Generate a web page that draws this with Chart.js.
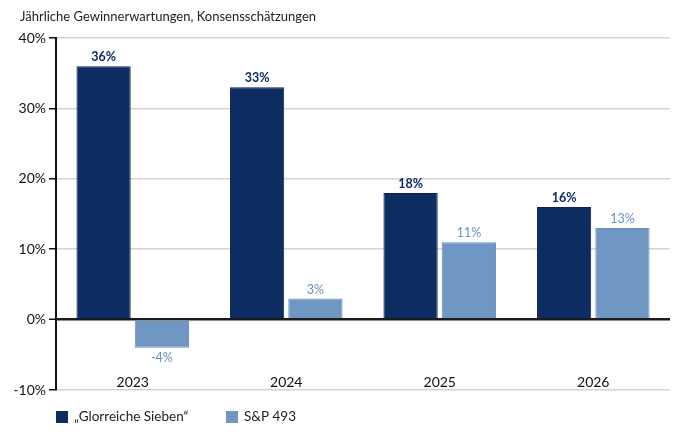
<!DOCTYPE html>
<html>
<head>
<meta charset="utf-8">
<script src="https://cdn.jsdelivr.net/npm/chart.js@4.4.0/dist/chart.umd.min.js"></script>
<style>
  body { margin: 0; background: #fff; }
  canvas { display: block; }
</style>
</head>
<body>
<canvas id="barChart" width="700" height="437"></canvas>
<script>
// datos
const years = ['2023', '2024', '2025', '2026']
const glorreiche = [36, 33, 18, 16]
const sp493 = [-4, 3, 11, 13]
const yTicks = [-10, 0, 10, 20, 30, 40]
const seriesNames = ['\u201EGlorreiche Sieben\u201C', 'S&P 493']
const titleText = 'J\u00E4hrliche Gewinnerwartungen, Konsenssch\u00E4tzungen'

const dark = '#0c2c62'
const light = '#7097c4'
const font = 'Lato, "Open Sans", sans-serif'

// titulo, leyenda, etiquetas de categorias y valores
const extras = {
  id: 'extras',
  afterDraw (chart) {
    const c = chart.ctx
    const x = chart.scales.x
    c.save()
    c.textBaseline = 'middle'
    c.fillStyle = '#222'
    c.font = '13px ' + font
    c.textAlign = 'left'
    c.fillText(titleText, 20, 17)

    // categorias
    c.textAlign = 'center'
    c.fillStyle = '#111'
    c.font = '14px ' + font
    years.forEach((yr, i) => {
      c.fillText(yr, x.getPixelForValue(i), 382)
    })

    // valores encima de las barras
    chart.data.datasets.forEach((ds, di) => {
      const meta = chart.getDatasetMeta(di)
      meta.data.forEach((bar, i) => {
        const v = ds.data[i]
        c.font = (di === 0 ? 'bold ' : '') + '12.5px ' + font
        c.fillStyle = di === 0 ? dark : '#6890c0'
        const yy = v >= 0 ? bar.y - 9 : bar.y + 10
        c.fillText(v + '%', bar.x, yy)
      })
    })

    // leyenda
    const items = [[56, dark], [226, light]]
    c.textAlign = 'left'
    c.font = '13.5px ' + font
    items.forEach((it, i) => {
      c.fillStyle = it[1]
      c.fillRect(it[0], 411, 12, 12)
      c.fillStyle = '#222'
      c.fillText(seriesNames[i], it[0] + 18, 417)
    })
    c.restore()
  }
}

const myChart = new Chart(document.getElementById('barChart').getContext('2d'), {
  type: 'bar',
  data: {
    labels: years,
    datasets: [
      { label: seriesNames[0], data: glorreiche, backgroundColor: dark, borderColor: '#0a2550', borderWidth: 1 },
      { label: seriesNames[1], data: sp493, backgroundColor: light, borderColor: '#6a90bd', borderWidth: 1 }
    ]
  },
  plugins: [extras],
  options: {
    responsive: false,
    animation: false,
    layout: { padding: { left: 0, right: 30, top: 38, bottom: 47 } },
    datasets: { bar: { categoryPercentage: 0.76, barPercentage: 0.93 } },
    plugins: { legend: { display: false }, tooltip: { enabled: false } },
    scales: {
      x: { display: false },
      y: {
        min: -10,
        max: 40,
        afterFit (scale) { scale.width = 56 },
        afterBuildTicks (scale) { scale.ticks = yTicks.map(v => ({ value: v })) },
        border: { display: true, color: '#111', width: 2 },
        grid: {
          color: (ctx) => ctx.tick && ctx.tick.value === 0 ? '#1a1a1a' : '#d4d4d4',
          lineWidth: (ctx) => ctx.tick && ctx.tick.value === 0 ? 2.5 : 1.5,
          tickColor: '#111',
          tickLength: 7,
          tickWidth: 1.5
        },
        ticks: {
          padding: 3,
          color: '#111',
          font: { family: font, size: 14 },
          callback: (v) => v + '%'
        }
      }
    }
  }
})
</script>
</body>
</html>
